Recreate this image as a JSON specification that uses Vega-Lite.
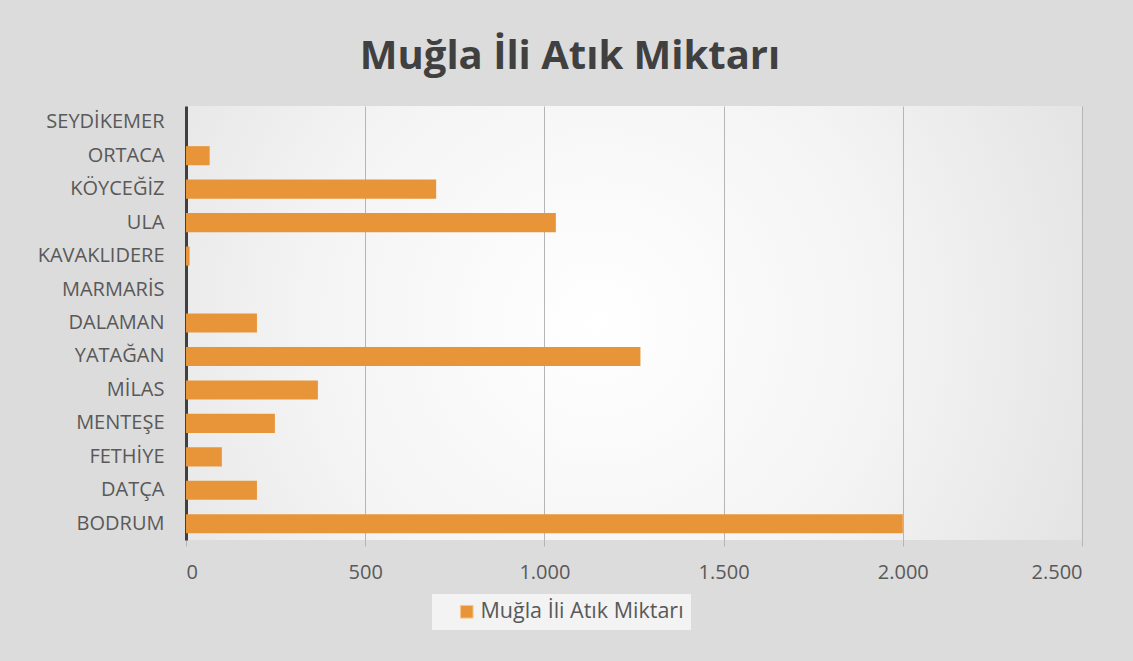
{
  "$schema": "https://vega.github.io/schema/vega-lite/v6.json",
  "width": 896,
  "height": 434,
  "autosize": {"type": "none"},
  "padding": {"left": 186, "top": 106, "right": 51, "bottom": 121},
  "background": "#dcdcdc",
  "title": {
    "text": "Muğla İli Atık Miktarı",
    "anchor": "middle",
    "frame": "group",
    "dx": -64,
    "dy": 37,
    "offset": 26,
    "baseline": "bottom",
    "font": "Open Sans",
    "fontSize": 40,
    "fontWeight": "bold",
    "color": "#404040"
  },
  "data": {
    "values": [
      {"ilce": "BODRUM", "miktar": 2000, "seri": "Muğla İli Atık Miktarı"},
      {"ilce": "DATÇA", "miktar": 198, "seri": "Muğla İli Atık Miktarı"},
      {"ilce": "FETHİYE", "miktar": 100, "seri": "Muğla İli Atık Miktarı"},
      {"ilce": "MENTEŞE", "miktar": 248, "seri": "Muğla İli Atık Miktarı"},
      {"ilce": "MİLAS", "miktar": 368, "seri": "Muğla İli Atık Miktarı"},
      {"ilce": "YATAĞAN", "miktar": 1268, "seri": "Muğla İli Atık Miktarı"},
      {"ilce": "DALAMAN", "miktar": 198, "seri": "Muğla İli Atık Miktarı"},
      {"ilce": "MARMARİS", "miktar": 0, "seri": "Muğla İli Atık Miktarı"},
      {"ilce": "KAVAKLIDERE", "miktar": 10, "seri": "Muğla İli Atık Miktarı"},
      {"ilce": "ULA", "miktar": 1032, "seri": "Muğla İli Atık Miktarı"},
      {"ilce": "KÖYCEĞİZ", "miktar": 698, "seri": "Muğla İli Atık Miktarı"},
      {"ilce": "ORTACA", "miktar": 66, "seri": "Muğla İli Atık Miktarı"},
      {"ilce": "SEYDİKEMER", "miktar": 0, "seri": "Muğla İli Atık Miktarı"}
    ]
  },
  "mark": {"type": "bar"},
  "encoding": {
    "y": {
      "field": "ilce",
      "type": "nominal",
      "sort": ["SEYDİKEMER", "ORTACA", "KÖYCEĞİZ", "ULA", "KAVAKLIDERE", "MARMARİS", "DALAMAN", "YATAĞAN", "MİLAS", "MENTEŞE", "FETHİYE", "DATÇA", "BODRUM"],
      "scale": {"paddingInner": 0.43, "paddingOuter": 0.2},
      "axis": {
        "title": null,
        "ticks": false,
        "domainColor": "#404040",
        "domainWidth": 3,
        "labelFont": "Open Sans",
        "labelFontSize": 20,
        "labelColor": "#595959",
        "labelPadding": 22,
        "labelLimit": 0,
        "grid": false
      }
    },
    "x": {
      "field": "miktar",
      "type": "quantitative",
      "scale": {"domain": [0, 2500], "nice": false},
      "axis": {
        "title": null,
        "values": [0, 500, 1000, 1500, 2000, 2500],
        "labelExpr": "replace(format(datum.value, ','), ',', '.')",
        "domain": false,
        "grid": true,
        "gridColor": "#b5b5b5",
        "gridWidth": 1,
        "ticks": true,
        "tickColor": "#b5b5b5",
        "tickSize": 6,
        "labelFont": "Open Sans",
        "labelFontSize": 20,
        "labelColor": "#595959",
        "labelPadding": 16
      }
    },
    "color": {
      "field": "seri",
      "type": "nominal",
      "scale": {"range": ["#e8953a"]},
      "legend": {
        "title": null,
        "orient": "none",
        "legendX": 246,
        "legendY": 488,
        "fillColor": "#f3f3f3",
        "padding": 7,
        "symbolType": "square",
        "symbolSize": 160,
        "symbolOffset": 17,
        "symbolStrokeColor": "#f6c98f",
        "symbolStrokeWidth": 1,
        "labelFont": "Open Sans",
        "labelFontSize": 21.5,
        "labelColor": "#595959",
        "labelOffset": 3,
        "labelLimit": 0,
        "labelExpr": "datum.label + '\u00a0\u00a0\u00a0\u00a0\u00a0\u00a0\u00a0\u00a0\u00a0'"
      }
    }
  },
  "config": {
    "view": {
      "stroke": null,
      "fill": {
        "gradient": "radial",
        "x1": 0.46, "y1": 0.5, "r1": 0,
        "x2": 0.46, "y2": 0.5, "r2": 0.72,
        "stops": [
          {"offset": 0, "color": "#ffffff"},
          {"offset": 0.45, "color": "#f4f4f4"},
          {"offset": 1, "color": "#dcdcdc"}
        ]
      }
    }
  }
}
